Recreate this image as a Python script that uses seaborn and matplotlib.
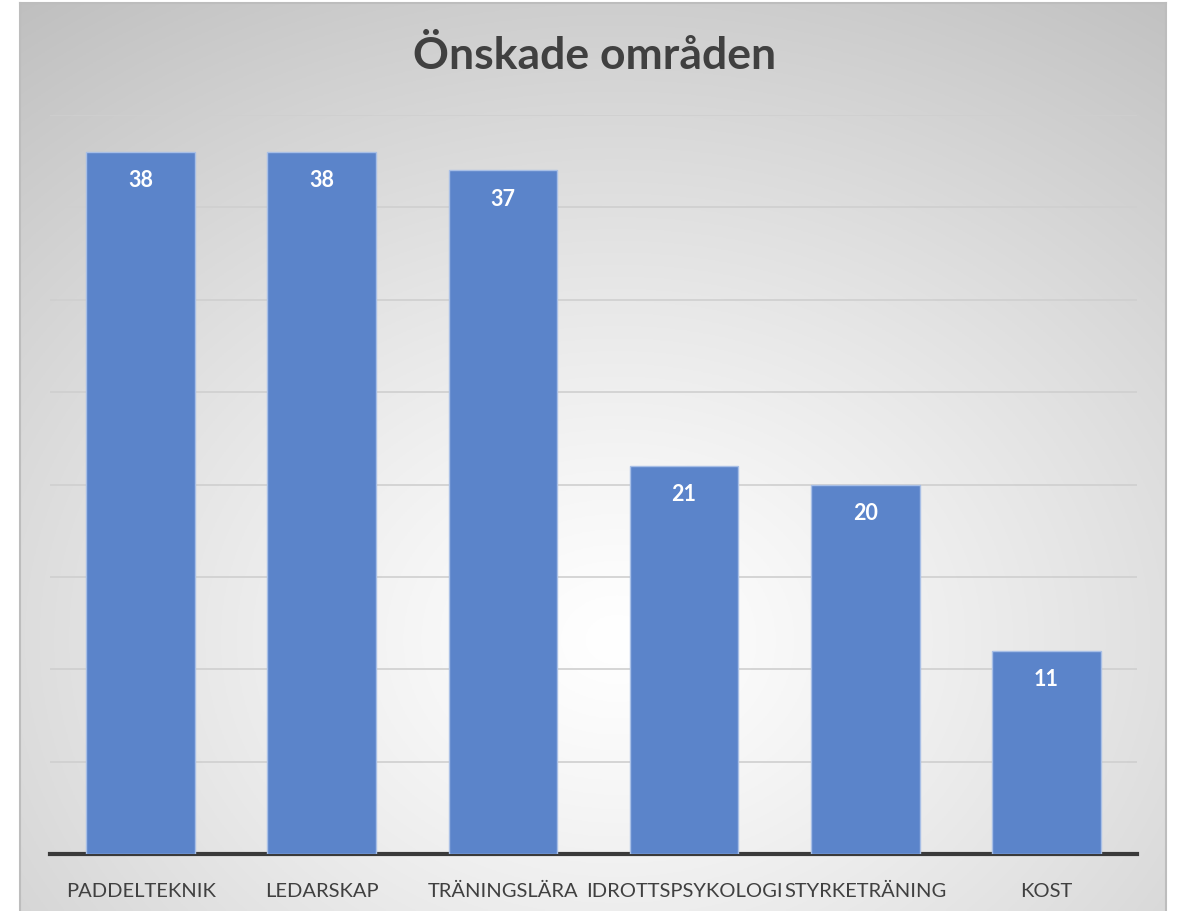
import numpy as np
import pandas as pd
import matplotlib.pyplot as plt
import seaborn as sns

# chart data
categories = ["PADDELTEKNIK", "LEDARSKAP", "TRÄNINGSLÄRA", "IDROTTSPSYKOLOGI", "STYRKETRÄNING", "KOST"]
values = [38, 38, 37, 21, 20, 11]
title = "Önskade områden"

df = pd.DataFrame({"category": categories, "value": values})

sns.set_theme(style="white")
plt.rcParams['font.family'] = ['Lato', 'DejaVu Sans']

fig = plt.figure(figsize=(11.78, 9.12), dpi=100)
fig.patch.set_facecolor('white')

# radial gradient background (Excel chart area style)
bg = fig.add_axes([20 / 1178, 0, 1146 / 1178, 908 / 912])
h, w = 400, 500
yy, xx = np.mgrid[0:h, 0:w]
cx, cy = 0.52 * w, 0.70 * h
r = np.sqrt(((xx - cx) / w) ** 2 + ((yy - cy) / h) ** 2)
r = r / r.max()
shade = 1.0 - 0.25 * np.clip(r, 0, 1) ** 1.2
bg.imshow(np.dstack([shade] * 3), aspect='auto', origin='upper', extent=[0, 1, 0, 1])
bg.set_xticks([])
bg.set_yticks([])
for s in bg.spines.values():
    s.set_color('#bdbdbd')
    s.set_linewidth(1.5)
bg.spines['bottom'].set_visible(False)

ax = fig.add_axes([50 / 1178, 1 - 855 / 912, 1087 / 1178, (855 - 116) / 912])
ax.set_facecolor('none')
sns.barplot(data=df, x="category", y="value", color='#5B84CA', width=0.6,
            saturation=1, edgecolor='#a8bfe6', linewidth=1, ax=ax, zorder=3)

ax.set_ylim(0, 40)
ax.set_xlim(-0.5, len(categories) - 0.5)
ax.set_yticks(range(5, 41, 5))
ax.yaxis.grid(True, color='#cfcfcf', linewidth=1.2, zorder=0)
ax.set_axisbelow(True)
ax.tick_params(axis='y', left=False, labelleft=False)
ax.tick_params(axis='x', bottom=False, pad=24, labelsize=14.5, labelcolor='#404040')
for lbl in ax.get_xticklabels():
    lbl.set_verticalalignment('baseline')
ax.set_xlabel("")
ax.set_ylabel("")
for side in ['top', 'right', 'left']:
    ax.spines[side].set_visible(False)
ax.spines['bottom'].set_color('#3a3a3a')
ax.spines['bottom'].set_linewidth(3)

for i, v in enumerate(values):
    ax.annotate(str(v), (i, v), xytext=(0, -20), textcoords='offset points',
                ha='center', va='center', color='white', fontsize=15.5,
                fontweight='bold', zorder=5)

fig.text(0.505, 1 - 56 / 912, title, ha='center', va='center', fontsize=32,
         fontweight='bold', color='#404040')

fig.savefig('out.png', dpi=100)
